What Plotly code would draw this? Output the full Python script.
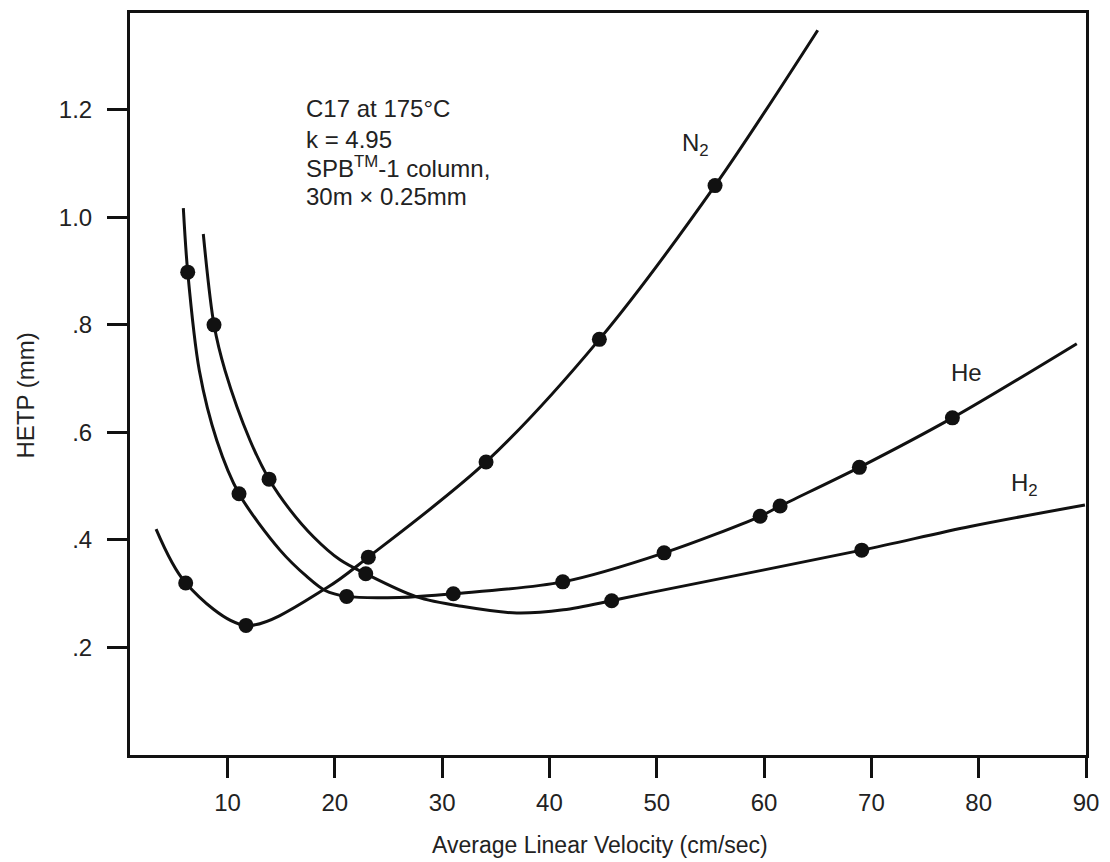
import plotly.graph_objects as go

# ---- data ----
x_ticks = [10, 20, 30, 40, 50, 60, 70, 80, 90]
y_ticks = [0.2, 0.4, 0.6, 0.8, 1.0, 1.2]
y_tick_labels = [".2", ".4", ".6", ".8", "1.0", "1.2"]

# N2: measured points and traced curve
n2_pts_x = [6.1, 11.72, 23.12, 34.09, 44.65, 55.43]
n2_pts_y = [0.32, 0.241, 0.368, 0.545, 0.773, 1.059]
n2_curve_x = [3.34, 6.1, 11.72, 19.25, 23.12, 34.09, 44.65, 55.43, 65.0]
n2_curve_y = [0.42, 0.32, 0.241, 0.311, 0.368, 0.545, 0.773, 1.059, 1.348]

# He
he_pts_x = [6.29, 11.07, 21.1, 31.04, 41.24, 50.68, 59.63, 61.49, 68.88, 77.55]
he_pts_y = [0.898, 0.486, 0.295, 0.30, 0.322, 0.376, 0.444, 0.463, 0.535, 0.627]
he_curve_x = [5.88, 6.29, 7.37, 9.0, 11.07, 14.89, 17.38, 19.09, 21.1, 26.0, 31.04, 41.24,
              50.68, 59.63, 61.49, 68.88, 77.55, 89.14]
he_curve_y = [1.017, 0.898, 0.715, 0.585, 0.486, 0.381, 0.332, 0.306, 0.295, 0.293, 0.30, 0.322,
              0.376, 0.444, 0.463, 0.535, 0.627, 0.765]

# H2
h2_pts_x = [8.74, 13.87, 22.88, 45.8, 69.1]
h2_pts_y = [0.80, 0.513, 0.337, 0.287, 0.381]
h2_curve_x = [7.74, 8.74, 9.77, 12.1, 13.87, 15.82, 18.0, 20.48, 22.88, 27.63, 31.97, 36.95,
              41.3, 45.8, 49.4, 69.1, 79.2, 89.9]
h2_curve_y = [0.969, 0.80, 0.715, 0.585, 0.513, 0.456, 0.406, 0.363, 0.337, 0.294, 0.276, 0.264,
              0.27, 0.287, 0.302, 0.381, 0.425, 0.465]

INK = "#111111"
TXT = "#222222"
FONT = "Liberation Sans, Arial, Helvetica, sans-serif"

fig = go.Figure()
for cx, cy, px, py in [
    (n2_curve_x, n2_curve_y, n2_pts_x, n2_pts_y),
    (he_curve_x, he_curve_y, he_pts_x, he_pts_y),
    (h2_curve_x, h2_curve_y, h2_pts_x, h2_pts_y),
]:
    fig.add_trace(go.Scatter(x=cx, y=cy, mode="lines",
                             line=dict(color=INK, width=3, shape="spline", smoothing=0.9),
                             hoverinfo="skip"))
    fig.add_trace(go.Scatter(x=px, y=py, mode="markers",
                             marker=dict(color=INK, size=15, line=dict(width=0)),
                             hoverinfo="skip"))

fig.update_layout(
    width=1110, height=862,
    margin=dict(l=130, r=24, t=10, b=107),
    plot_bgcolor="white", paper_bgcolor="white",
    showlegend=False,
    font=dict(family=FONT, size=24, color=TXT),
)
axis_common = dict(ticks="outside", ticklen=20, tickwidth=3, tickcolor=INK,
                   showline=True, linewidth=3, linecolor=INK, mirror=True,
                   showgrid=False, zeroline=False,
                   tickfont=dict(family=FONT, size=24, color=TXT))
fig.update_xaxes(range=[0.91, 90.0], tickvals=x_ticks,
                 ticktext=[str(v) for v in x_ticks], ticklabelstandoff=4, **axis_common)
fig.update_yaxes(range=[0.0, 1.38], tickvals=y_ticks, ticktext=y_tick_labels,
                 ticklabelstandoff=10, **axis_common)

ann = []
# axis titles
ann.append(dict(text="Average Linear Velocity (cm/sec)", xref="paper", yref="paper",
                x=0.4916, y=-0.1208, xanchor="center", yanchor="middle", showarrow=False,
                font=dict(size=23)))
ann.append(dict(text="HETP (mm)", xref="paper", yref="paper", textangle=-90,
                x=-0.1098, y=0.4846, xanchor="center", yanchor="middle", showarrow=False,
                font=dict(size=24)))
# info text block
info_lines = ["C17 at 175°C", "k = 4.95", "SPB<sup>TM</sup>-1 column,", "30m × 0.25mm"]
info_y = [1.202, 1.144, 1.094, 1.039]
for t, yy in zip(info_lines, info_y):
    ann.append(dict(text=t, x=17.13, y=yy, xref="x", yref="y", xanchor="left",
                    yanchor="middle", showarrow=False, font=dict(size=24)))
# curve labels
ann.append(dict(text="N<sub>2</sub>", x=52.2, y=1.135, xref="x", yref="y", xanchor="left",
                yanchor="middle", showarrow=False, font=dict(size=24)))
ann.append(dict(text="He", x=77.2, y=0.711, xref="x", yref="y", xanchor="left",
                yanchor="middle", showarrow=False, font=dict(size=24)))
ann.append(dict(text="H<sub>2</sub>", x=82.8, y=0.503, xref="x", yref="y", xanchor="left",
                yanchor="middle", showarrow=False, font=dict(size=24)))
fig.update_layout(annotations=ann)

fig.write_html("out.html", config={"displayModeBar": False})
